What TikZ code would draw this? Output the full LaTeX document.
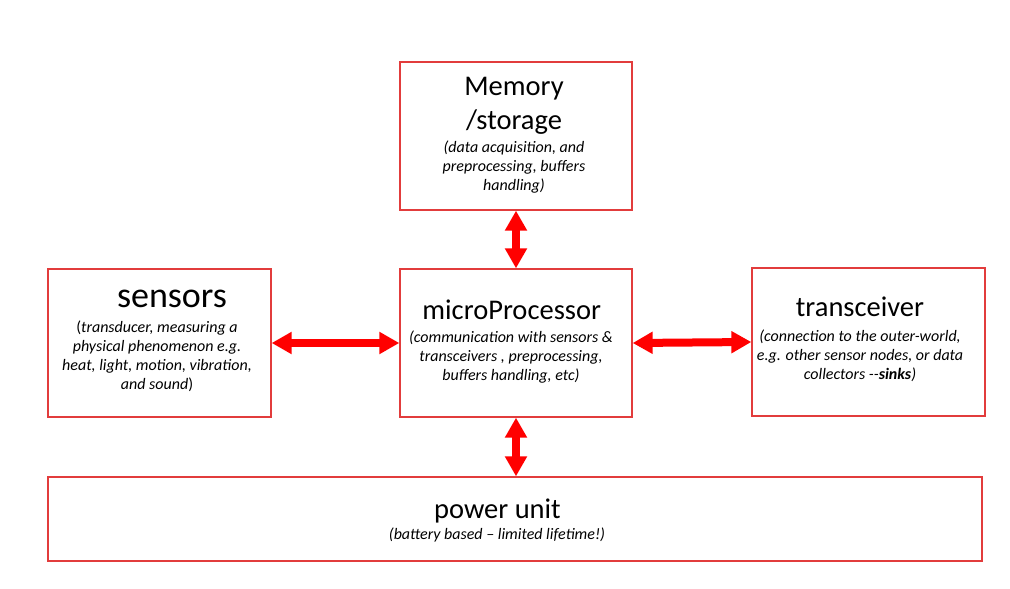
\documentclass[tikz,border=0pt]{standalone}
\usepackage{fontspec}
\setmainfont{Carlito}
\usetikzlibrary{arrows.meta}
\definecolor{boxred}{RGB}{226,60,60}
\definecolor{arrowred}{RGB}{255,0,0}
\tikzset{
  block/.style={draw=boxred, line width=1.3pt, rectangle, inner sep=0pt},
  headline/.style={anchor=base, inner sep=0pt, align=center, font=\fontsize{28.5}{33.3}\selectfont},
  notes/.style={anchor=base, inner sep=0pt, align=center, font=\fontsize{16}{19}\selectfont\itshape},
  link/.style={arrowred, line width=8pt, {Triangle[length=20pt,width=21pt]}-{Triangle[length=20pt,width=21pt]}}
}
\begin{document}
\begin{tikzpicture}[x=1pt,y=-1pt] % sensor node block diagram
\useasboundingbox (0,0) rectangle (1010,589);
% boxes
\node [block, minimum width=232pt, minimum height=148pt] (memory) at (516,136) {};
\node [block, minimum width=223pt, minimum height=148pt] (sensors) at (159.5,343) {};
\node [block, minimum width=232pt, minimum height=148pt] (micro) at (516,343) {};
\node [block, minimum width=233pt, minimum height=148pt] (transceiver) at (868.5,342) {};
\node [block, minimum width=934pt, minimum height=84pt] (power) at (515,519) {};
% texts (base = last line)
\node [headline] (memorytitle) at (514,129) {Memory\\/storage};
\node [notes] (memorynotes) at (514,190) {(data acquisition, and\\preprocessing, buffers\\handling)};
\node [headline, font=\fontsize{36}{40}\selectfont] (sensorstitle) at (172,307.3) {sensors};
\node [notes] (sensorsnotes) at (157,389.3) {\textup{(}transducer, measuring a\\physical phenomenon e.g.\\heat, light, motion, vibration,\\and sound\textup{)}};
\node [headline] (microtitle) at (511.7,319.3) {microProcessor};
\node [notes] (micronotes) at (511,380) {(communication with sensors \&\\transceivers , preprocessing,\\buffers handling, etc)};
\node [headline] (transceivertitle) at (860,316.7) {transceiver};
\node [notes] (transceivernotes) at (860,379) {(connection to the outer-world,\\e.g. other sensor nodes, or data\\collectors -{}-\textbf{sinks})};
\node [headline] (powertitle) at (497.5,518.3) {power unit};
\node [notes] (powernotes) at (497,539.3) {(battery based -- limited lifetime!)};
% links
\draw [link] (memory.south) -- (micro.north);
\draw [link] (sensors.east) -- (micro.west);
\draw [link] (micro.east) -- (transceiver.west);
\draw [link] (micro.south) -- (micro.south |- power.north);
\end{tikzpicture}
\end{document}
